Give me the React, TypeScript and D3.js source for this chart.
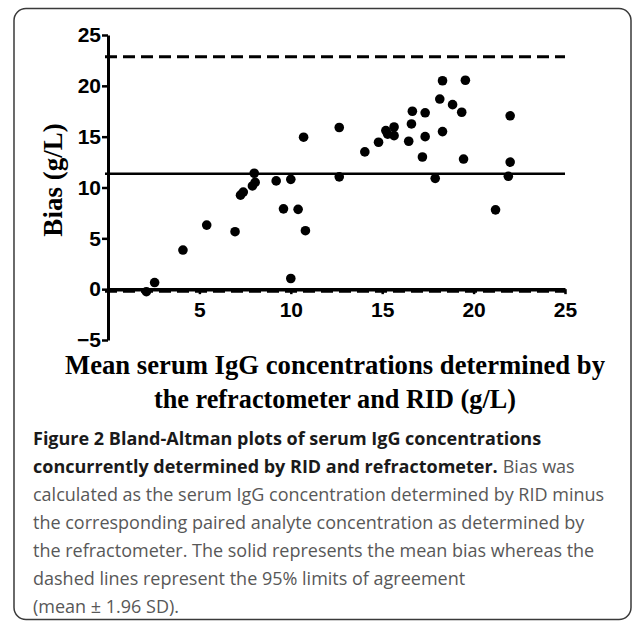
import React, { useEffect, useRef } from "react";
import * as d3 from "d3";

// Mean of the two methods (x) and bias RID - refractometer (y), in g/L
const meanValues = [
  2.1, 2.55, 4.1, 5.4, 6.95, 7.25, 7.4, 7.9, 8.05, 8.0, 9.2, 9.6, 10.0, 10.0,
  10.4, 10.8, 10.7, 12.65, 12.65, 14.05, 14.8, 15.2, 15.3, 15.65, 15.65, 16.45,
  16.6, 16.65, 17.2, 17.35, 17.35, 17.9, 18.15, 18.3, 18.3, 18.85, 19.35, 19.45,
  19.55, 21.2, 22.0, 22.0, 21.9,
];
const biasValues = [
  -0.25, 0.65, 3.85, 6.3, 5.65, 9.25, 9.55, 10.15, 10.5, 11.4, 10.65, 7.9, 10.8,
  1.05, 7.85, 5.75, 14.95, 15.9, 11.05, 13.5, 14.45, 15.6, 15.25, 15.95, 15.1,
  14.55, 16.25, 17.5, 13.0, 15.0, 17.35, 10.9, 18.7, 15.5, 20.5, 18.15, 17.4,
  12.8, 20.55, 7.8, 17.05, 12.5, 11.1,
];

const meanBias = 11.35;
const upperLimit = 22.85;
const lowerLimit = -0.2;

const xTicks = [5, 10, 15, 20, 25];
const yTicks = [-5, 0, 5, 10, 15, 20, 25];

const xTitle = [
  "Mean serum IgG concentrations determined by",
  "the refractometer and RID (g/L)",
];
const yTitle = "Bias (g/L)";

// caption lines: bold part, regular part
const captionBold = [
  "Figure 2 Bland-Altman plots of serum IgG concentrations",
  "concurrently determined by RID and refractometer.",
  "",
  "",
  "",
  "",
  "",
];
const captionRegular = [
  "",
  "Bias was",
  "calculated as the serum IgG concentration determined by RID minus",
  "the corresponding paired analyte concentration as determined by",
  "the refractometer. The solid represents the mean bias whereas the",
  "dashed lines represent the 95% limits of agreement",
  "(mean \u00b1 1.96 SD).",
];

const W = 632;
const H = 621;

const App = () => {
  const svgRef = useRef<SVGSVGElement>(null);

  useEffect(() => {
    const svg = d3.select(svgRef.current);
    svg.selectAll("*").remove();

    const x = d3.scaleLinear().domain([0, 25]).range([108, 565]);
    const y = d3.scaleLinear().domain([-5, 25]).range([340, 35]);

    // frame
    svg
      .append("rect")
      .attr("x", 14)
      .attr("y", 8.5)
      .attr("width", 617)
      .attr("height", 611)
      .attr("rx", 12)
      .attr("fill", "none")
      .attr("stroke", "#3a3a3a")
      .attr("stroke-width", 1.5);

    // mean bias and limits of agreement
    const refs = [
      { v: upperLimit, dash: "12 6" },
      { v: lowerLimit, dash: "12 6" },
      { v: meanBias, dash: null },
    ];
    svg
      .append("g")
      .selectAll("line")
      .data(refs)
      .join("line")
      .attr("x1", x(0) - 3)
      .attr("x2", x(25))
      .attr("y1", (d) => y(d.v))
      .attr("y2", (d) => y(d.v))
      .attr("stroke", "#000")
      .attr("stroke-width", (d) => (d.dash ? 3 : 2.5))
      .attr("stroke-dasharray", (d) => d.dash);

    const tickFont = "'Liberation Sans', Arial, sans-serif";

    // y axis
    const gy = svg
      .append("g")
      .attr("transform", `translate(${x(0)},0)`)
      .call(
        d3
          .axisLeft(y)
          .tickValues(yTicks)
          .tickSize(6)
          .tickSizeOuter(0)
          .tickPadding(1)
          .tickFormat(d3.format("d"))
      );
    gy.select(".domain").attr("stroke-width", 3);
    gy.selectAll(".tick line").attr("stroke-width", 2.5);
    gy.selectAll(".tick text")
      .attr("font-family", tickFont)
      .attr("font-weight", "bold")
      .attr("font-size", 21)
      .attr("fill", "#000");

    // x axis drawn at zero bias
    const gx = svg
      .append("g")
      .attr("transform", `translate(0,${y(0)})`)
      .call(
        d3
          .axisBottom(x)
          .tickValues(xTicks)
          .tickSize(5)
          .tickSizeOuter(0)
          .tickPadding(8)
      );
    gx.select(".domain").attr("stroke-width", 3.5);
    gx.selectAll(".tick line").attr("stroke-width", 2.5);
    gx.selectAll(".tick text")
      .attr("font-family", tickFont)
      .attr("font-weight", "bold")
      .attr("font-size", 21)
      .attr("fill", "#000");

    // points
    svg
      .append("g")
      .selectAll("circle")
      .data(meanValues.map((m, i) => [m, biasValues[i]]))
      .join("circle")
      .attr("cx", (d) => x(d[0]))
      .attr("cy", (d) => y(d[1]))
      .attr("r", 4.8)
      .attr("fill", "#000");

    // axis titles
    const serif = "'Liberation Serif', 'Times New Roman', serif";
    svg
      .append("g")
      .selectAll("text")
      .data(xTitle)
      .join("text")
      .attr("x", 335)
      .attr("y", (d, i) => 374 + i * 34)
      .attr("text-anchor", "middle")
      .attr("font-family", serif)
      .attr("font-weight", "bold")
      .attr("font-size", 27)
      .attr("textLength", (d, i) => (i === 0 ? 540 : 362))
      .attr("lengthAdjust", "spacingAndGlyphs")
      .text((d) => d);

    svg
      .append("text")
      .attr("transform", "translate(62,180) rotate(-90)")
      .attr("text-anchor", "middle")
      .attr("font-family", serif)
      .attr("font-weight", "bold")
      .attr("font-size", 27)
      .text(yTitle);

    // caption: bold lead-in, then regular grey text
    const capFont = "'Open Sans', sans-serif";
    const cap = svg.append("g").attr("font-family", capFont).attr("font-size", 18);
    captionBold.forEach((b, i) => {
      const ly = 445 + i * 28;
      let cx = 33;
      if (b) {
        const t = cap
          .append("text")
          .attr("x", cx)
          .attr("y", ly)
          .attr("font-weight", "bold")
          .attr("fill", "#1a1a1a")
          .text(b);
        cx += (t.node() as SVGTextElement).getComputedTextLength() + 5;
      }
      const r = captionRegular[i];
      if (r) {
        cap
          .append("text")
          .attr("x", cx)
          .attr("y", ly)
          .attr("fill", "#585858")
          .text(r);
      }
    });
  }, []);

  return (
    <svg
      ref={svgRef}
      width={W}
      height={H}
      style={{ position: "absolute", left: 0, top: 0, background: "#fff" }}
    />
  );
};

export default App;
